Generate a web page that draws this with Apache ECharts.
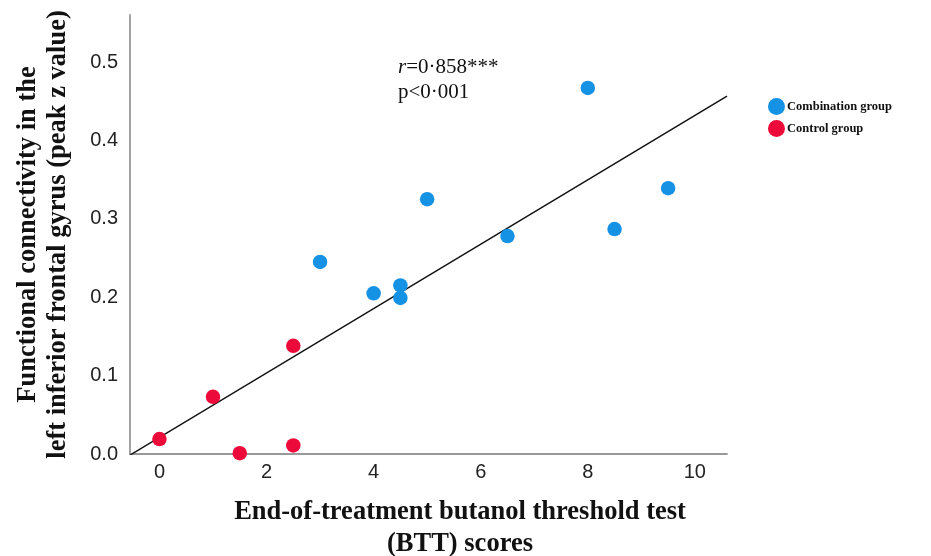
<!DOCTYPE html>
<html><head><meta charset="utf-8">
<script src="https://cdn.jsdelivr.net/npm/echarts@6/dist/echarts.min.js"></script>
<style>html,body{margin:0;padding:0;background:#fff}#c{width:931px;height:556px}</style>
</head><body><div id="c"></div>
<script>
const combinationX = [3, 4, 4.5, 4.5, 5, 6.5, 8, 8.5, 9.5];
const combinationY = [0.245, 0.205, 0.215, 0.199, 0.325, 0.278, 0.467, 0.287, 0.339];
const controlX = [0, 1, 1.5, 2.5, 2.5];
const controlY = [0.019, 0.073, 0.001, 0.138, 0.011];
const xTicks = [0, 2, 4, 6, 8, 10];
const yTicks = [0.0, 0.1, 0.2, 0.3, 0.4, 0.5];
const xMin = -0.55, xMax = 10.6, yMin = 0, yMax = 0.56;

// least-squares fit through all points
const allX = combinationX.concat(controlX), allY = combinationY.concat(controlY);
const n = allX.length;
const mx = allX.reduce((a,b)=>a+b,0)/n, my = allY.reduce((a,b)=>a+b,0)/n;
let sxy=0, sxx=0;
for (let i=0;i<n;i++){ sxy+=(allX[i]-mx)*(allY[i]-my); sxx+=(allX[i]-mx)**2; }
const slope = sxy/sxx, icpt = my - slope*mx;
const fitLine = [[xMin, icpt+slope*xMin],[xMax, icpt+slope*xMax]];

const chart = echarts.init(document.getElementById('c'));
const serif = '"Liberation Serif","Times New Roman",serif';
const sans = '"Liberation Sans",Arial,sans-serif';
chart.setOption({
  animation:false,
  grid:{left:130, right:204, top:15, bottom:102, outerBoundsMode:'none', containLabel:false},
  xAxis:{type:'value', min:xMin, max:xMax,
    axisLine:{show:true, onZero:false, lineStyle:{color:'#999', width:1.8}},
    axisTick:{show:false}, splitLine:{show:false},
    axisLabel:{fontFamily:sans, fontSize:20, color:'#222', margin:8,
      customValues: xTicks, formatter: v=>String(v)},
    name:'End-of-treatment butanol threshold test\n(BTT) scores',
    nameLocation:'middle', nameGap:42,
    nameTextStyle:{fontFamily:serif, fontWeight:'bold', fontSize:26.5, color:'#111', lineHeight:32, padding:[0,0,0,63]}
  },
  yAxis:{type:'value', min:yMin, max:yMax,
    axisLine:{show:true, onZero:false, lineStyle:{color:'#999', width:1.8}},
    axisTick:{show:false}, splitLine:{show:false},
    axisLabel:{fontFamily:sans, fontSize:20, color:'#222', margin:12,
      customValues: yTicks, formatter: v=>v.toFixed(1)},
    name:'Functional connectivity in the\nleft inferior frontal gyrus (peak z value)',
    nameLocation:'middle', nameGap:57, nameRotate:90,
    nameTextStyle:{fontFamily:serif, fontWeight:'bold', fontSize:26.5, color:'#111', lineHeight:30}
  },
  legend:{orient:'vertical', left:763, top:93, itemGap:5, itemWidth:17, itemHeight:17,
    icon:'circle',
    textStyle:{fontFamily:serif, fontWeight:'bold', fontSize:12.5, color:'#111', padding:[0,0,0,-3]},
    data:['Combination group','Control group']},
  graphic:[{type:'text', left:398, top:57,
    style:{rich:{i:{fontFamily:serif, fontStyle:'italic', fontSize:21, fill:'#111', lineHeight:25},
                 n:{fontFamily:serif, fontSize:21, fill:'#111', lineHeight:25}},
      text:'{i|r}{n|=0·858***}\n{n|p<0·001}', font:'21px '+serif}}],
  series:[
    {type:'line', data:fitLine, symbol:'none', lineStyle:{color:'#111', width:1.5}, silent:true, z:1, clip:true},
    {name:'Combination group', type:'scatter', symbolSize:14.5, itemStyle:{color:'#1592E4', opacity:1},
      data: combinationX.map((x,i)=>[x, combinationY[i]]), z:3},
    {name:'Control group', type:'scatter', symbolSize:14.5, itemStyle:{color:'#EC0A3A', opacity:1},
      data: controlX.map((x,i)=>[x, controlY[i]]), z:3}
  ]
});
</script></body></html>
